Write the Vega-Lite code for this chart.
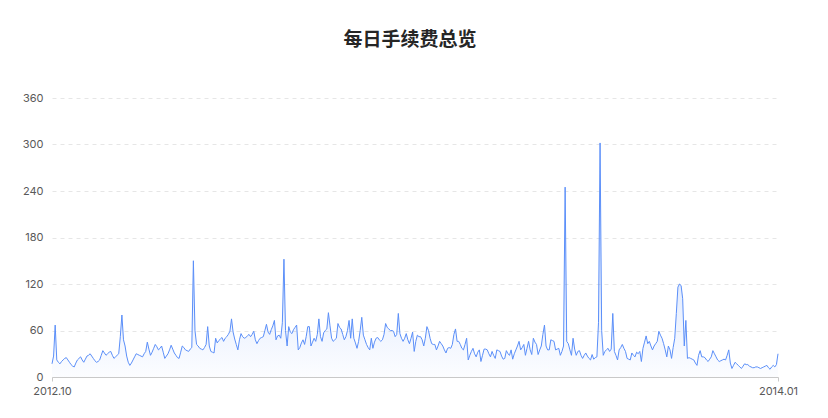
{
  "$schema": "https://vega.github.io/schema/vega-lite/v6.json",
  "description": "Daily fee overview, Oct 2012 to Jan 2014",
  "width": 726,
  "height": 279,
  "autosize": "none",
  "padding": {"left": 52, "top": 98, "right": 50, "bottom": 41},
  "background": "#ffffff",
  "config": {
    "view": {"stroke": null},
    "font": "Noto Sans CJK SC"
  },
  "title": {
    "text": "每日手续费总览",
    "fontSize": 19,
    "fontWeight": "bold",
    "color": "#262626",
    "offset": 42,
    "anchor": "middle",
    "dx": -5
  },
  "data": {
    "values": [
      {"date": "2012-10-01", "fee": 17}, {"date": "2012-10-02", "fee": 27}, {"date": "2012-10-03", "fee": 67}, {"date": "2012-10-04", "fee": 22},
      {"date": "2012-10-05", "fee": 19}, {"date": "2012-10-06", "fee": 17}, {"date": "2012-10-07", "fee": 20}, {"date": "2012-10-08", "fee": 22},
      {"date": "2012-10-09", "fee": 24}, {"date": "2012-10-10", "fee": 25}, {"date": "2012-10-11", "fee": 22}, {"date": "2012-10-12", "fee": 19},
      {"date": "2012-10-13", "fee": 16}, {"date": "2012-10-14", "fee": 14}, {"date": "2012-10-15", "fee": 13}, {"date": "2012-10-16", "fee": 18},
      {"date": "2012-10-17", "fee": 22}, {"date": "2012-10-18", "fee": 24}, {"date": "2012-10-19", "fee": 26}, {"date": "2012-10-20", "fee": 22},
      {"date": "2012-10-21", "fee": 19}, {"date": "2012-10-22", "fee": 23}, {"date": "2012-10-23", "fee": 27}, {"date": "2012-10-24", "fee": 28},
      {"date": "2012-10-25", "fee": 30}, {"date": "2012-10-26", "fee": 27}, {"date": "2012-10-27", "fee": 24}, {"date": "2012-10-28", "fee": 21},
      {"date": "2012-10-29", "fee": 19}, {"date": "2012-10-30", "fee": 20}, {"date": "2012-10-31", "fee": 22},
      {"date": "2012-11-01", "fee": 28}, {"date": "2012-11-02", "fee": 34}, {"date": "2012-11-03", "fee": 31}, {"date": "2012-11-04", "fee": 28},
      {"date": "2012-11-05", "fee": 30}, {"date": "2012-11-06", "fee": 32}, {"date": "2012-11-07", "fee": 33}, {"date": "2012-11-08", "fee": 28},
      {"date": "2012-11-09", "fee": 24}, {"date": "2012-11-10", "fee": 26}, {"date": "2012-11-11", "fee": 28}, {"date": "2012-11-12", "fee": 30},
      {"date": "2012-11-13", "fee": 52}, {"date": "2012-11-14", "fee": 80}, {"date": "2012-11-15", "fee": 48}, {"date": "2012-11-16", "fee": 40},
      {"date": "2012-11-17", "fee": 27}, {"date": "2012-11-18", "fee": 19}, {"date": "2012-11-19", "fee": 15}, {"date": "2012-11-20", "fee": 18},
      {"date": "2012-11-21", "fee": 22}, {"date": "2012-11-22", "fee": 26}, {"date": "2012-11-23", "fee": 30}, {"date": "2012-11-24", "fee": 29},
      {"date": "2012-11-25", "fee": 28}, {"date": "2012-11-26", "fee": 27}, {"date": "2012-11-27", "fee": 26}, {"date": "2012-11-28", "fee": 30},
      {"date": "2012-11-29", "fee": 33}, {"date": "2012-11-30", "fee": 45},
      {"date": "2012-12-01", "fee": 36}, {"date": "2012-12-02", "fee": 28}, {"date": "2012-12-03", "fee": 32}, {"date": "2012-12-04", "fee": 37},
      {"date": "2012-12-05", "fee": 42}, {"date": "2012-12-06", "fee": 39}, {"date": "2012-12-07", "fee": 35}, {"date": "2012-12-08", "fee": 37},
      {"date": "2012-12-09", "fee": 40}, {"date": "2012-12-10", "fee": 32}, {"date": "2012-12-11", "fee": 24}, {"date": "2012-12-12", "fee": 27},
      {"date": "2012-12-13", "fee": 30}, {"date": "2012-12-14", "fee": 35}, {"date": "2012-12-15", "fee": 41}, {"date": "2012-12-16", "fee": 36},
      {"date": "2012-12-17", "fee": 31}, {"date": "2012-12-18", "fee": 28}, {"date": "2012-12-19", "fee": 25}, {"date": "2012-12-20", "fee": 24},
      {"date": "2012-12-21", "fee": 32}, {"date": "2012-12-22", "fee": 40}, {"date": "2012-12-23", "fee": 38}, {"date": "2012-12-24", "fee": 35},
      {"date": "2012-12-25", "fee": 34}, {"date": "2012-12-26", "fee": 33}, {"date": "2012-12-27", "fee": 36}, {"date": "2012-12-28", "fee": 38},
      {"date": "2012-12-29", "fee": 150}, {"date": "2012-12-30", "fee": 60}, {"date": "2012-12-31", "fee": 42},
      {"date": "2013-01-01", "fee": 40}, {"date": "2013-01-02", "fee": 37}, {"date": "2013-01-03", "fee": 36}, {"date": "2013-01-04", "fee": 35},
      {"date": "2013-01-05", "fee": 38}, {"date": "2013-01-06", "fee": 42}, {"date": "2013-01-07", "fee": 65}, {"date": "2013-01-08", "fee": 40},
      {"date": "2013-01-09", "fee": 33}, {"date": "2013-01-10", "fee": 32}, {"date": "2013-01-11", "fee": 31}, {"date": "2013-01-12", "fee": 50},
      {"date": "2013-01-13", "fee": 44}, {"date": "2013-01-14", "fee": 47}, {"date": "2013-01-15", "fee": 49}, {"date": "2013-01-16", "fee": 51},
      {"date": "2013-01-17", "fee": 46}, {"date": "2013-01-18", "fee": 50}, {"date": "2013-01-19", "fee": 52}, {"date": "2013-01-20", "fee": 55},
      {"date": "2013-01-21", "fee": 59}, {"date": "2013-01-22", "fee": 75}, {"date": "2013-01-23", "fee": 58}, {"date": "2013-01-24", "fee": 49},
      {"date": "2013-01-25", "fee": 42}, {"date": "2013-01-26", "fee": 35}, {"date": "2013-01-27", "fee": 48}, {"date": "2013-01-28", "fee": 56},
      {"date": "2013-01-29", "fee": 52}, {"date": "2013-01-30", "fee": 50}, {"date": "2013-01-31", "fee": 51},
      {"date": "2013-02-01", "fee": 53}, {"date": "2013-02-02", "fee": 55}, {"date": "2013-02-03", "fee": 52}, {"date": "2013-02-04", "fee": 55},
      {"date": "2013-02-05", "fee": 59}, {"date": "2013-02-06", "fee": 48}, {"date": "2013-02-07", "fee": 43}, {"date": "2013-02-08", "fee": 47},
      {"date": "2013-02-09", "fee": 50}, {"date": "2013-02-10", "fee": 51}, {"date": "2013-02-11", "fee": 52}, {"date": "2013-02-12", "fee": 60},
      {"date": "2013-02-13", "fee": 68}, {"date": "2013-02-14", "fee": 58}, {"date": "2013-02-15", "fee": 55}, {"date": "2013-02-16", "fee": 61},
      {"date": "2013-02-17", "fee": 66}, {"date": "2013-02-18", "fee": 73}, {"date": "2013-02-19", "fee": 48}, {"date": "2013-02-20", "fee": 53},
      {"date": "2013-02-21", "fee": 54}, {"date": "2013-02-22", "fee": 50}, {"date": "2013-02-23", "fee": 70}, {"date": "2013-02-24", "fee": 152},
      {"date": "2013-02-25", "fee": 60}, {"date": "2013-02-26", "fee": 40}, {"date": "2013-02-27", "fee": 65}, {"date": "2013-02-28", "fee": 58},
      {"date": "2013-03-01", "fee": 56}, {"date": "2013-03-02", "fee": 61}, {"date": "2013-03-03", "fee": 64}, {"date": "2013-03-04", "fee": 67},
      {"date": "2013-03-05", "fee": 35}, {"date": "2013-03-06", "fee": 38}, {"date": "2013-03-07", "fee": 44}, {"date": "2013-03-08", "fee": 48},
      {"date": "2013-03-09", "fee": 42}, {"date": "2013-03-10", "fee": 52}, {"date": "2013-03-11", "fee": 65}, {"date": "2013-03-12", "fee": 65},
      {"date": "2013-03-13", "fee": 40}, {"date": "2013-03-14", "fee": 45}, {"date": "2013-03-15", "fee": 50}, {"date": "2013-03-16", "fee": 46},
      {"date": "2013-03-17", "fee": 55}, {"date": "2013-03-18", "fee": 75}, {"date": "2013-03-19", "fee": 52}, {"date": "2013-03-20", "fee": 46},
      {"date": "2013-03-21", "fee": 57}, {"date": "2013-03-22", "fee": 60}, {"date": "2013-03-23", "fee": 62}, {"date": "2013-03-24", "fee": 83},
      {"date": "2013-03-25", "fee": 66}, {"date": "2013-03-26", "fee": 50}, {"date": "2013-03-27", "fee": 46}, {"date": "2013-03-28", "fee": 48},
      {"date": "2013-03-29", "fee": 50}, {"date": "2013-03-30", "fee": 69}, {"date": "2013-03-31", "fee": 64},
      {"date": "2013-04-01", "fee": 62}, {"date": "2013-04-02", "fee": 55}, {"date": "2013-04-03", "fee": 48}, {"date": "2013-04-04", "fee": 52},
      {"date": "2013-04-05", "fee": 60}, {"date": "2013-04-06", "fee": 73}, {"date": "2013-04-07", "fee": 50}, {"date": "2013-04-08", "fee": 75},
      {"date": "2013-04-09", "fee": 50}, {"date": "2013-04-10", "fee": 44}, {"date": "2013-04-11", "fee": 37}, {"date": "2013-04-12", "fee": 46},
      {"date": "2013-04-13", "fee": 60}, {"date": "2013-04-14", "fee": 77}, {"date": "2013-04-15", "fee": 54}, {"date": "2013-04-16", "fee": 48},
      {"date": "2013-04-17", "fee": 42}, {"date": "2013-04-18", "fee": 38}, {"date": "2013-04-19", "fee": 35}, {"date": "2013-04-20", "fee": 50},
      {"date": "2013-04-21", "fee": 37}, {"date": "2013-04-22", "fee": 45}, {"date": "2013-04-23", "fee": 50}, {"date": "2013-04-24", "fee": 51},
      {"date": "2013-04-25", "fee": 48}, {"date": "2013-04-26", "fee": 46}, {"date": "2013-04-27", "fee": 48}, {"date": "2013-04-28", "fee": 55},
      {"date": "2013-04-29", "fee": 69}, {"date": "2013-04-30", "fee": 64},
      {"date": "2013-05-01", "fee": 62}, {"date": "2013-05-02", "fee": 60}, {"date": "2013-05-03", "fee": 60}, {"date": "2013-05-04", "fee": 59},
      {"date": "2013-05-05", "fee": 52}, {"date": "2013-05-06", "fee": 55}, {"date": "2013-05-07", "fee": 82}, {"date": "2013-05-08", "fee": 56},
      {"date": "2013-05-09", "fee": 50}, {"date": "2013-05-10", "fee": 46}, {"date": "2013-05-11", "fee": 50}, {"date": "2013-05-12", "fee": 56},
      {"date": "2013-05-13", "fee": 48}, {"date": "2013-05-14", "fee": 43}, {"date": "2013-05-15", "fee": 50}, {"date": "2013-05-16", "fee": 58},
      {"date": "2013-05-17", "fee": 33}, {"date": "2013-05-18", "fee": 46}, {"date": "2013-05-19", "fee": 54}, {"date": "2013-05-20", "fee": 52},
      {"date": "2013-05-21", "fee": 52}, {"date": "2013-05-22", "fee": 48}, {"date": "2013-05-23", "fee": 40}, {"date": "2013-05-24", "fee": 50},
      {"date": "2013-05-25", "fee": 65}, {"date": "2013-05-26", "fee": 60}, {"date": "2013-05-27", "fee": 50}, {"date": "2013-05-28", "fee": 43},
      {"date": "2013-05-29", "fee": 42}, {"date": "2013-05-30", "fee": 42}, {"date": "2013-05-31", "fee": 35},
      {"date": "2013-06-01", "fee": 40}, {"date": "2013-06-02", "fee": 46}, {"date": "2013-06-03", "fee": 43}, {"date": "2013-06-04", "fee": 40},
      {"date": "2013-06-05", "fee": 35}, {"date": "2013-06-06", "fee": 31}, {"date": "2013-06-07", "fee": 37}, {"date": "2013-06-08", "fee": 38},
      {"date": "2013-06-09", "fee": 37}, {"date": "2013-06-10", "fee": 42}, {"date": "2013-06-11", "fee": 55}, {"date": "2013-06-12", "fee": 62},
      {"date": "2013-06-13", "fee": 46}, {"date": "2013-06-14", "fee": 46}, {"date": "2013-06-15", "fee": 42}, {"date": "2013-06-16", "fee": 37},
      {"date": "2013-06-17", "fee": 35}, {"date": "2013-06-18", "fee": 42}, {"date": "2013-06-19", "fee": 50}, {"date": "2013-06-20", "fee": 22},
      {"date": "2013-06-21", "fee": 28}, {"date": "2013-06-22", "fee": 33}, {"date": "2013-06-23", "fee": 37}, {"date": "2013-06-24", "fee": 30},
      {"date": "2013-06-25", "fee": 26}, {"date": "2013-06-26", "fee": 32}, {"date": "2013-06-27", "fee": 35}, {"date": "2013-06-28", "fee": 20},
      {"date": "2013-06-29", "fee": 28}, {"date": "2013-06-30", "fee": 36},
      {"date": "2013-07-01", "fee": 36}, {"date": "2013-07-02", "fee": 35}, {"date": "2013-07-03", "fee": 30}, {"date": "2013-07-04", "fee": 26},
      {"date": "2013-07-05", "fee": 33}, {"date": "2013-07-06", "fee": 28}, {"date": "2013-07-07", "fee": 24}, {"date": "2013-07-08", "fee": 35},
      {"date": "2013-07-09", "fee": 34}, {"date": "2013-07-10", "fee": 33}, {"date": "2013-07-11", "fee": 27}, {"date": "2013-07-12", "fee": 23},
      {"date": "2013-07-13", "fee": 24}, {"date": "2013-07-14", "fee": 34}, {"date": "2013-07-15", "fee": 30}, {"date": "2013-07-16", "fee": 28},
      {"date": "2013-07-17", "fee": 35}, {"date": "2013-07-18", "fee": 23}, {"date": "2013-07-19", "fee": 30}, {"date": "2013-07-20", "fee": 35},
      {"date": "2013-07-21", "fee": 40}, {"date": "2013-07-22", "fee": 46}, {"date": "2013-07-23", "fee": 35}, {"date": "2013-07-24", "fee": 38},
      {"date": "2013-07-25", "fee": 42}, {"date": "2013-07-26", "fee": 28}, {"date": "2013-07-27", "fee": 37}, {"date": "2013-07-28", "fee": 46},
      {"date": "2013-07-29", "fee": 35}, {"date": "2013-07-30", "fee": 29}, {"date": "2013-07-31", "fee": 50},
      {"date": "2013-08-01", "fee": 45}, {"date": "2013-08-02", "fee": 42}, {"date": "2013-08-03", "fee": 29}, {"date": "2013-08-04", "fee": 35},
      {"date": "2013-08-05", "fee": 40}, {"date": "2013-08-06", "fee": 55}, {"date": "2013-08-07", "fee": 67}, {"date": "2013-08-08", "fee": 40},
      {"date": "2013-08-09", "fee": 35}, {"date": "2013-08-10", "fee": 35}, {"date": "2013-08-11", "fee": 48}, {"date": "2013-08-12", "fee": 47},
      {"date": "2013-08-13", "fee": 46}, {"date": "2013-08-14", "fee": 35}, {"date": "2013-08-15", "fee": 36}, {"date": "2013-08-16", "fee": 37},
      {"date": "2013-08-17", "fee": 28}, {"date": "2013-08-18", "fee": 33}, {"date": "2013-08-19", "fee": 40}, {"date": "2013-08-20", "fee": 245},
      {"date": "2013-08-21", "fee": 46}, {"date": "2013-08-22", "fee": 43}, {"date": "2013-08-23", "fee": 35}, {"date": "2013-08-24", "fee": 28},
      {"date": "2013-08-25", "fee": 50}, {"date": "2013-08-26", "fee": 36}, {"date": "2013-08-27", "fee": 28}, {"date": "2013-08-28", "fee": 33},
      {"date": "2013-08-29", "fee": 34}, {"date": "2013-08-30", "fee": 28}, {"date": "2013-08-31", "fee": 24},
      {"date": "2013-09-01", "fee": 28}, {"date": "2013-09-02", "fee": 31}, {"date": "2013-09-03", "fee": 27}, {"date": "2013-09-04", "fee": 24},
      {"date": "2013-09-05", "fee": 22}, {"date": "2013-09-06", "fee": 29}, {"date": "2013-09-07", "fee": 23}, {"date": "2013-09-08", "fee": 25},
      {"date": "2013-09-09", "fee": 26}, {"date": "2013-09-10", "fee": 70}, {"date": "2013-09-11", "fee": 302}, {"date": "2013-09-12", "fee": 60},
      {"date": "2013-09-13", "fee": 28}, {"date": "2013-09-14", "fee": 33}, {"date": "2013-09-15", "fee": 35}, {"date": "2013-09-16", "fee": 37},
      {"date": "2013-09-17", "fee": 33}, {"date": "2013-09-18", "fee": 36}, {"date": "2013-09-19", "fee": 82}, {"date": "2013-09-20", "fee": 33},
      {"date": "2013-09-21", "fee": 28}, {"date": "2013-09-22", "fee": 22}, {"date": "2013-09-23", "fee": 35}, {"date": "2013-09-24", "fee": 38},
      {"date": "2013-09-25", "fee": 42}, {"date": "2013-09-26", "fee": 37}, {"date": "2013-09-27", "fee": 33}, {"date": "2013-09-28", "fee": 24},
      {"date": "2013-09-29", "fee": 23}, {"date": "2013-09-30", "fee": 22},
      {"date": "2013-10-01", "fee": 31}, {"date": "2013-10-02", "fee": 28}, {"date": "2013-10-03", "fee": 26}, {"date": "2013-10-04", "fee": 32},
      {"date": "2013-10-05", "fee": 30}, {"date": "2013-10-06", "fee": 33}, {"date": "2013-10-07", "fee": 20}, {"date": "2013-10-08", "fee": 37},
      {"date": "2013-10-09", "fee": 45}, {"date": "2013-10-10", "fee": 53}, {"date": "2013-10-11", "fee": 43}, {"date": "2013-10-12", "fee": 46},
      {"date": "2013-10-13", "fee": 40}, {"date": "2013-10-14", "fee": 35}, {"date": "2013-10-15", "fee": 40}, {"date": "2013-10-16", "fee": 43},
      {"date": "2013-10-17", "fee": 46}, {"date": "2013-10-18", "fee": 59}, {"date": "2013-10-19", "fee": 54}, {"date": "2013-10-20", "fee": 50},
      {"date": "2013-10-21", "fee": 43}, {"date": "2013-10-22", "fee": 35}, {"date": "2013-10-23", "fee": 26}, {"date": "2013-10-24", "fee": 40},
      {"date": "2013-10-25", "fee": 35}, {"date": "2013-10-26", "fee": 24}, {"date": "2013-10-27", "fee": 38}, {"date": "2013-10-28", "fee": 50},
      {"date": "2013-10-29", "fee": 82}, {"date": "2013-10-30", "fee": 116}, {"date": "2013-10-31", "fee": 120},
      {"date": "2013-11-01", "fee": 118}, {"date": "2013-11-02", "fee": 101}, {"date": "2013-11-03", "fee": 40}, {"date": "2013-11-04", "fee": 73},
      {"date": "2013-11-05", "fee": 24}, {"date": "2013-11-06", "fee": 25}, {"date": "2013-11-07", "fee": 24}, {"date": "2013-11-08", "fee": 23},
      {"date": "2013-11-09", "fee": 22}, {"date": "2013-11-10", "fee": 18}, {"date": "2013-11-11", "fee": 15}, {"date": "2013-11-12", "fee": 28},
      {"date": "2013-11-13", "fee": 34}, {"date": "2013-11-14", "fee": 26}, {"date": "2013-11-15", "fee": 26}, {"date": "2013-11-16", "fee": 25},
      {"date": "2013-11-17", "fee": 22}, {"date": "2013-11-18", "fee": 20}, {"date": "2013-11-19", "fee": 23}, {"date": "2013-11-20", "fee": 26},
      {"date": "2013-11-21", "fee": 34}, {"date": "2013-11-22", "fee": 30}, {"date": "2013-11-23", "fee": 26}, {"date": "2013-11-24", "fee": 22},
      {"date": "2013-11-25", "fee": 20}, {"date": "2013-11-26", "fee": 21}, {"date": "2013-11-27", "fee": 22}, {"date": "2013-11-28", "fee": 23},
      {"date": "2013-11-29", "fee": 22}, {"date": "2013-11-30", "fee": 28},
      {"date": "2013-12-01", "fee": 35}, {"date": "2013-12-02", "fee": 18}, {"date": "2013-12-03", "fee": 11}, {"date": "2013-12-04", "fee": 15},
      {"date": "2013-12-05", "fee": 19}, {"date": "2013-12-06", "fee": 17}, {"date": "2013-12-07", "fee": 15}, {"date": "2013-12-08", "fee": 13},
      {"date": "2013-12-09", "fee": 11}, {"date": "2013-12-10", "fee": 14}, {"date": "2013-12-11", "fee": 17}, {"date": "2013-12-12", "fee": 16},
      {"date": "2013-12-13", "fee": 16}, {"date": "2013-12-14", "fee": 14}, {"date": "2013-12-15", "fee": 13}, {"date": "2013-12-16", "fee": 12},
      {"date": "2013-12-17", "fee": 12}, {"date": "2013-12-18", "fee": 13}, {"date": "2013-12-19", "fee": 13}, {"date": "2013-12-20", "fee": 12},
      {"date": "2013-12-21", "fee": 11}, {"date": "2013-12-22", "fee": 12}, {"date": "2013-12-23", "fee": 13}, {"date": "2013-12-24", "fee": 14},
      {"date": "2013-12-25", "fee": 15}, {"date": "2013-12-26", "fee": 12}, {"date": "2013-12-27", "fee": 10}, {"date": "2013-12-28", "fee": 13},
      {"date": "2013-12-29", "fee": 15}, {"date": "2013-12-30", "fee": 13}, {"date": "2013-12-31", "fee": 16},
      {"date": "2014-01-01", "fee": 30}
    ]
  },
  "encoding": {
    "x": {
      "field": "date",
      "type": "temporal",
      "title": null,
      "scale": {"type": "utc", "nice": false},
      "axis": {
        "values": [
          {"year": 2012, "month": 10, "date": 1, "utc": true},
          {"year": 2014, "month": 1, "date": 1, "utc": true}
        ],
        "labelExpr": "utcFormat(datum.value, '%Y.%m')",
        "labelFlush": false,
        "domainColor": "#c9c9c9",
        "tickColor": "#c9c9c9",
        "tickSize": 4,
        "labelPadding": 4,
        "labelFontSize": 11,
        "labelColor": "#595959",
        "labelFont": "Inter",
        "grid": false
      }
    },
    "y": {
      "field": "fee",
      "type": "quantitative",
      "title": null,
      "scale": {"domain": [0, 360], "nice": false},
      "axis": {
        "values": [0, 60, 120, 180, 240, 300, 360],
        "domain": false,
        "ticks": false,
        "labelPadding": 9,
        "labelFontSize": 11,
        "labelColor": "#595959",
        "labelFont": "Inter",
        "gridColor": "#e6e6e6",
        "gridDash": [4, 4]
      }
    }
  },
  "layer": [
    {
      "mark": {
        "type": "area",
        "color": {
          "x1": 0, "y1": 0, "x2": 0, "y2": 1,
          "gradient": "linear",
          "stops": [
            {"offset": 0, "color": "rgba(91,143,249,0.4)"},
            {"offset": 1, "color": "rgba(91,143,249,0.02)"}
          ]
        }
      }
    },
    {
      "mark": {"type": "line", "color": "#5B8FF9", "strokeWidth": 1}
    }
  ]
}
